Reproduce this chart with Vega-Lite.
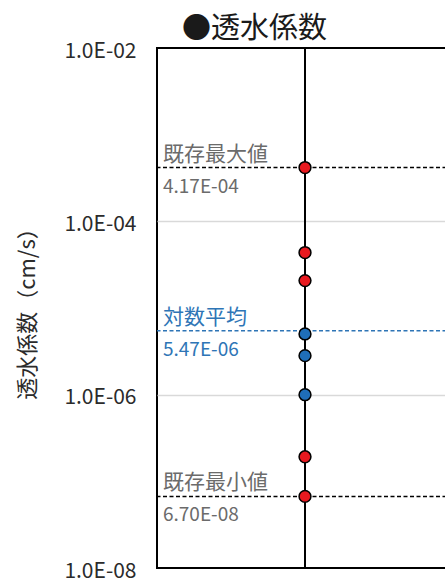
{
  "$schema": "https://vega.github.io/schema/vega-lite/v6.json",
  "width": 296,
  "height": 520,
  "autosize": {"type": "none"},
  "padding": {"left": 157, "top": 48, "right": 0, "bottom": 12},
  "background": "white",
  "title": {
    "text": "●透水係数",
    "font": "Noto Sans CJK JP",
    "fontSize": 29,
    "fontWeight": "normal",
    "color": "#1a1a1a",
    "anchor": "start",
    "frame": "group",
    "dx": 25,
    "offset": -4
  },
  "config": {
    "font": "Noto Sans CJK JP",
    "view": {"stroke": "#000000", "strokeWidth": 2}
  },
  "datasets": {
    "series": [{"系列": "透水係数"}],
    "refs": [
      {"名称": "既存最大値", "値": 4.17e-4, "区分": "既存"},
      {"名称": "対数平均", "値": 5.47e-6, "区分": "平均"},
      {"名称": "既存最小値", "値": 6.70e-8, "区分": "既存"}
    ],
    "points": [
      {"系列": "透水係数", "種別": "既存", "透水係数": 4.17e-4},
      {"系列": "透水係数", "種別": "既存", "透水係数": 4.36e-5},
      {"系列": "透水係数", "種別": "既存", "透水係数": 2.07e-5},
      {"系列": "透水係数", "種別": "今回", "透水係数": 5.02e-6},
      {"系列": "透水係数", "種別": "今回", "透水係数": 2.82e-6},
      {"系列": "透水係数", "種別": "今回", "透水係数": 1.0e-6},
      {"系列": "透水係数", "種別": "既存", "透水係数": 1.92e-7},
      {"系列": "透水係数", "種別": "既存", "透水係数": 6.70e-8}
    ]
  },
  "layer": [
    {
      "data": {"name": "series"},
      "mark": {"type": "rule", "color": "#000000", "strokeWidth": 2},
      "encoding": {
        "x": {
          "field": "系列",
          "type": "nominal",
          "scale": {"type": "point", "padding": 0.5},
          "axis": null
        }
      }
    },
    {
      "data": {"name": "refs"},
      "mark": {"type": "rule", "strokeWidth": 1.5, "strokeDash": [4, 2.5]},
      "encoding": {
        "y": {
          "field": "値",
          "type": "quantitative",
          "scale": {"type": "log", "domain": [1e-8, 1e-2]},
          "axis": {
            "values": [1e-8, 1e-6, 1e-4, 1e-2],
            "labelExpr": "'1.0E-0' + round(-log(datum.value) / LN10)",
            "domain": false,
            "ticks": false,
            "labelPadding": 21,
            "labelOffset": 3,
            "labelFontSize": 21,
            "labelColor": "#2b2b2b",
            "labelFont": "Noto Sans CJK JP",
            "grid": true,
            "gridColor": {
              "condition": {"test": "datum.value > 2e-8 && datum.value < 5e-3", "value": "#d9d9d9"},
              "value": "transparent"
            },
            "gridWidth": 1.5,
            "title": "透水係数（cm/s）",
            "titleFont": "Noto Sans CJK JP",
            "titleFontSize": 22,
            "titleFontWeight": "normal",
            "titleColor": "#2b2b2b",
            "titlePadding": 24
          }
        },
        "stroke": {
          "field": "区分",
          "type": "nominal",
          "scale": {"domain": ["既存", "平均"], "range": ["#000000", "#2E75B6"]},
          "legend": null
        }
      }
    },
    {
      "data": {"name": "refs"},
      "mark": {"type": "text", "align": "left", "baseline": "alphabetic", "dx": 6, "dy": -7, "fontSize": 21},
      "encoding": {
        "x": {"value": 0},
        "y": {"field": "値", "type": "quantitative"},
        "text": {"field": "名称"},
        "fill": {
          "field": "区分",
          "type": "nominal",
          "scale": {"domain": ["既存", "平均"], "range": ["#6b6b6b", "#2E75B6"]},
          "legend": null
        }
      }
    },
    {
      "data": {"name": "refs"},
      "transform": [
        {
          "calculate": "upper(slice(format(datum['値'], '.2e'), 0, indexof(format(datum['値'], '.2e'), 'e') + 2)) + '0' + slice(format(datum['値'], '.2e'), indexof(format(datum['値'], '.2e'), 'e') + 2)",
          "as": "表示値"
        }
      ],
      "mark": {"type": "text", "align": "left", "baseline": "alphabetic", "dx": 6, "dy": 25, "fontSize": 19},
      "encoding": {
        "x": {"value": 0},
        "y": {"field": "値", "type": "quantitative"},
        "text": {"field": "表示値"},
        "fill": {"field": "区分", "type": "nominal", "legend": null}
      }
    },
    {
      "data": {"name": "points"},
      "mark": {"type": "point", "shape": "circle", "filled": true, "size": 140, "stroke": "#000000", "strokeWidth": 1.5, "opacity": 1},
      "encoding": {
        "x": {"field": "系列", "type": "nominal"},
        "y": {"field": "透水係数", "type": "quantitative"},
        "color": {
          "field": "種別",
          "type": "nominal",
          "scale": {"domain": ["既存", "今回"], "range": ["#E8191F", "#1F6EB8"]},
          "legend": null
        }
      }
    }
  ]
}
